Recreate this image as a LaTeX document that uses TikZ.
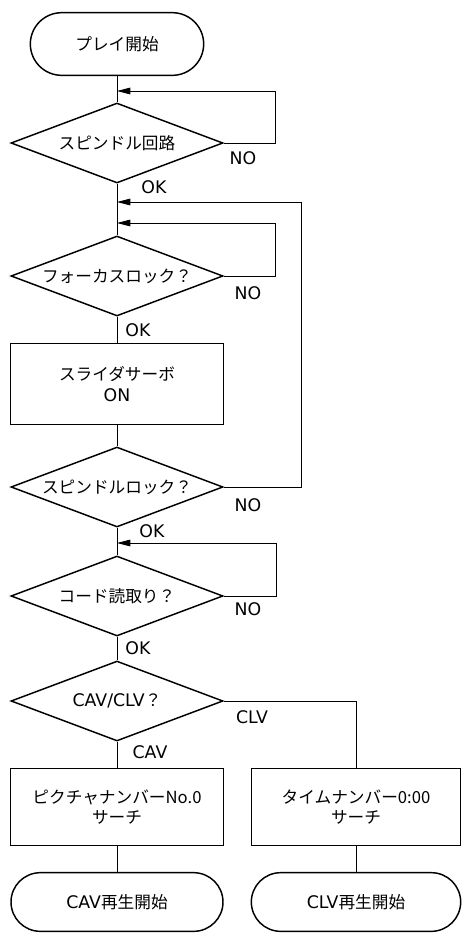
\documentclass[tikz,border=0pt]{standalone}
\usepackage{fontspec}
\setmainfont{DejaVu Sans}
\newfontfamily\jp{Noto Sans CJK JP}
\usetikzlibrary{arrows.meta,shapes.geometric,shapes.misc}

\tikzset{
  termbox/.style={rounded rectangle, draw, line width=1.1pt, inner sep=0pt,
    font=\jp\fontsize{12.5}{15}\selectfont},
  procbox/.style={rectangle, draw, line width=1.1pt, inner sep=0pt, align=center,
    font=\jp\fontsize{12.5}{15.5}\selectfont},
  decbox/.style={diamond, draw, line width=1.1pt, inner sep=0pt, aspect=3,
    minimum width=159pt, minimum height=60pt, font=\jp\fontsize{12.5}{15}\selectfont},
  flowline/.style={line width=0.6pt},
  backarrow/.style={line width=0.6pt, -{Triangle[length=10pt,width=5pt]}},
  lbl/.style={font=\fontsize{13}{15}\selectfont, inner sep=0pt},
}

\begin{document}
\begin{tikzpicture}[x=0.75pt, y=-0.75pt]
    \useasboundingbox (0,0) rectangle (462,933);

    % Main column
    \node[termbox, minimum width=130pt, minimum height=47pt] (start) at (117,44) {プレイ開始};
    \node[decbox] (spin) at (117,143) {スピンドル回路};
    \node[decbox] (focus) at (117,276) {フォーカスロック？};
    \node[procbox, minimum width=160pt, minimum height=61pt] (slider) at (117,384) {スライダサーボ\\{\fontspec{DejaVu Sans}\fontsize{13}{15}\selectfont ON}};
    \node[decbox] (spinlock) at (117,487) {スピンドルロック？};
    \node[decbox] (code) at (117,596) {コード読取り？};
    \node[decbox] (mode) at (117,701) {{\fontspec{DejaVu Sans}\fontsize{13}{15}\selectfont CAV/CLV}？};

    % CAV / CLV branches
    \node[procbox, minimum width=160pt, minimum height=58pt] (pict) at (117,807) {ピクチャナンバーNo.0\\サーチ};
    \node[procbox, minimum width=157pt, minimum height=58pt] (time) at (356,807) {タイムナンバー0:00\\サーチ};
    \node[termbox, minimum width=159pt, minimum height=44pt] (cavend) at (117,902)
      {{\fontspec{DejaVu Sans}\fontsize{13}{15}\selectfont CAV}再生開始};
    \node[termbox, minimum width=157pt, minimum height=44pt] (clvend) at (356,902)
      {{\fontspec{DejaVu Sans}\fontsize{13}{15}\selectfont CLV}再生開始};

    % Join points of the loops
    \coordinate (j1) at (117,91);
    \coordinate (j2) at (117,202);
    \coordinate (j3) at (117,223);
    \coordinate (j4) at (117,543);

    % Straight flow
    \draw[flowline] (start.south) -- (spin.north);
    \draw[flowline] (spin.south) -- (focus.north);
    \draw[flowline] (focus.south) -- (slider.north);
    \draw[flowline] (slider.south) -- (spinlock.north);
    \draw[flowline] (spinlock.south) -- (code.north);
    \draw[flowline] (code.south) -- (mode.north);
    \draw[flowline] (mode.south) -- (pict.north);
    \draw[flowline] (pict.south) -- (cavend.north);
    \draw[flowline] (mode.east) -| (time.north);
    \draw[flowline] (time.south) -- (clvend.north);

    % NO loops
    \draw[backarrow] (spin.east) -- ++(52,0) |- (j1);
    \draw[backarrow] (focus.east) -- ++(52,0) |- (j3);
    \draw[backarrow] (spinlock.east) -- ++(78,0) |- (j2);
    \draw[backarrow] (code.east) -- ++(53,0) |- (j4);

    % Branch labels
    \node[lbl] (no1) at (243,158) {NO};
    \node[lbl] (ok1) at (154,187) {OK};
    \node[lbl] (no2) at (248,293) {NO};
    \node[lbl] (ok2) at (138,330) {OK};
    \node[lbl] (no3) at (248,505) {NO};
    \node[lbl] (ok3) at (152,531) {OK};
    \node[lbl] (no4) at (248,609) {NO};
    \node[lbl] (ok4) at (138,648) {OK};
    \node[lbl] (clv) at (252,717) {CLV};
    \node[lbl] (cav) at (150,752) {CAV};
  \end{tikzpicture}
\end{document}
